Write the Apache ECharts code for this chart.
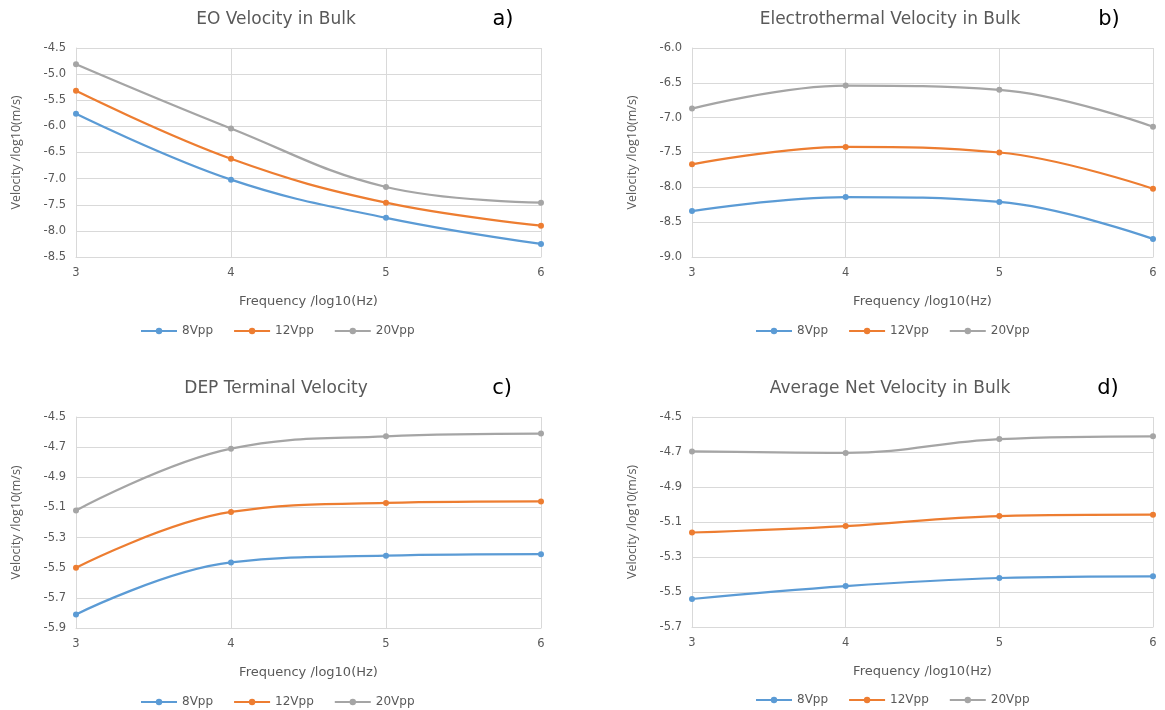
<!DOCTYPE html>
<html>
<head>
  <meta charset="utf-8">
  <title>Velocity panels</title>
  <script src="https://cdn.jsdelivr.net/npm/echarts@6/dist/echarts.min.js"></script>
  <style>
    html, body { margin: 0; padding: 0; background: #fff; }
  </style>
</head>
<body>
  <div id="main" style="width: 1165px;height:710px;"></div>

  <script>
    // frequency, log10(Hz)
    const freq = [3, 4, 5, 6];
    const seriesNames = ["8Vpp", "12Vpp", "20Vpp"];

    // a) EO velocity in bulk
    const eo8 = [-5.76, -7.02, -7.75, -8.25];
    const eo12 = [-5.32, -6.62, -7.46, -7.90];
    const eo20 = [-4.81, -6.04, -7.16, -7.46];

    // b) electrothermal velocity in bulk
    const et8 = [-8.34, -8.14, -8.21, -8.74];
    const et12 = [-7.67, -7.42, -7.50, -8.02];
    const et20 = [-6.87, -6.54, -6.60, -7.13];

    // c) DEP terminal velocity
    const dep8 = [-5.81, -5.465, -5.42, -5.41];
    const dep12 = [-5.50, -5.13, -5.07, -5.06];
    const dep20 = [-5.12, -4.71, -4.628, -4.61];

    // d) average net velocity in bulk
    const net8 = [-5.54, -5.466, -5.42, -5.41];
    const net12 = [-5.16, -5.123, -5.066, -5.058];
    const net20 = [-4.697, -4.705, -4.626, -4.61];

    const titles = ["EO Velocity in Bulk", "Electrothermal Velocity in Bulk", "DEP Terminal Velocity", "Average Net Velocity in Bulk"];
    const tags = ["a)", "b)", "c)", "d)"];
    const yRanges = [[-8.5, -4.5, 0.5], [-9.0, -6.0, 0.5], [-5.9, -4.5, 0.2], [-5.7, -4.5, 0.2]];
    const panelData = [[eo8, eo12, eo20], [et8, et12, et20], [dep8, dep12, dep20], [net8, net12, net20]];

    const colors = ["#5B9BD5", "#ED7D31", "#A5A5A5"];
    const wide = "'DejaVu Sans', sans-serif";   // reference text looks stretched sideways
    const narrow = "'Open Sans', sans-serif";
    const grey = "#595959";

    // panel geometry
    const grids = [
      { left: 76, top: 48, width: 465, height: 209 },
      { left: 692, top: 48, width: 461, height: 209 },
      { left: 76, top: 417, width: 465, height: 211 },
      { left: 692, top: 417, width: 461, height: 210 }
    ];
    const titlePos = [[276, 20], [890, 20], [276, 389], [890, 389]];
    const tagPos = [[503, 20], [1109, 20], [502, 389], [1108, 389]];
    const legendPos = [[140, 325], [755, 325], [140, 696], [755, 694]];

    const chart = echarts.init(document.getElementById("main"));

    const xAxis = [], yAxis = [], series = [], legend = [], graphic = [];
    grids.forEach(function (g, i) {
      xAxis.push({
        type: "value", gridIndex: i, min: 3, max: 6, interval: 1,
        name: "Frequency /log10(Hz)", nameLocation: "middle", nameGap: 38,
        nameTextStyle: { color: grey, fontSize: 13, fontFamily: wide },
        axisLine: { show: true, lineStyle: { color: "#d9d9d9" } },
        axisTick: { show: false },
        axisLabel: { color: grey, fontSize: 11.5, fontFamily: wide, margin: 10 },
        splitLine: { show: true, lineStyle: { color: "#d9d9d9" } }
      });
      yAxis.push({
        type: "value", gridIndex: i, min: yRanges[i][0], max: yRanges[i][1], interval: yRanges[i][2],
        name: "Velocity /log10(m/s)", nameLocation: "middle", nameGap: 53,
        nameTextStyle: { color: grey, fontSize: 12.5, fontFamily: narrow },
        axisLine: { show: true, lineStyle: { color: "#d9d9d9" } },
        axisTick: { show: false },
        axisLabel: { color: grey, fontSize: 11.5, fontFamily: wide, margin: 10,
          formatter: function (v) { return v.toFixed(1); } },
        splitLine: { show: true, lineStyle: { color: "#d9d9d9" } }
      });
      panelData[i].forEach(function (vals, k) {
        series.push({
          name: seriesNames[k], type: "line", xAxisIndex: i, yAxisIndex: i,
          data: freq.map(function (f, j) { return [f, vals[j]]; }),
          smooth: 0.4, symbol: "circle", symbolSize: 6,
          lineStyle: { width: 2.25, color: colors[k] },
          itemStyle: { color: colors[k] }
        });
      });
      legend.push({
        left: legendPos[i][0], top: legendPos[i][1], data: seriesNames, padding: 0,
        itemWidth: 36, itemHeight: 8, itemGap: 20,
        textStyle: { color: grey, fontSize: 12, fontFamily: wide }
      });
      graphic.push({
        type: "text", x: titlePos[i][0], y: titlePos[i][1],
        style: { text: titles[i], fill: grey, font: "17px " + wide, align: "center", verticalAlign: "middle" }
      });
      graphic.push({
        type: "text", x: tagPos[i][0], y: tagPos[i][1],
        style: { text: tags[i], fill: "#000", font: "21px " + wide, align: "center", verticalAlign: "middle" }
      });
    });

    chart.setOption({
      color: colors,
      animation: false,
      grid: grids,
      xAxis: xAxis,
      yAxis: yAxis,
      legend: legend,
      graphic: graphic,
      series: series
    });
  </script>
</body>
</html>
